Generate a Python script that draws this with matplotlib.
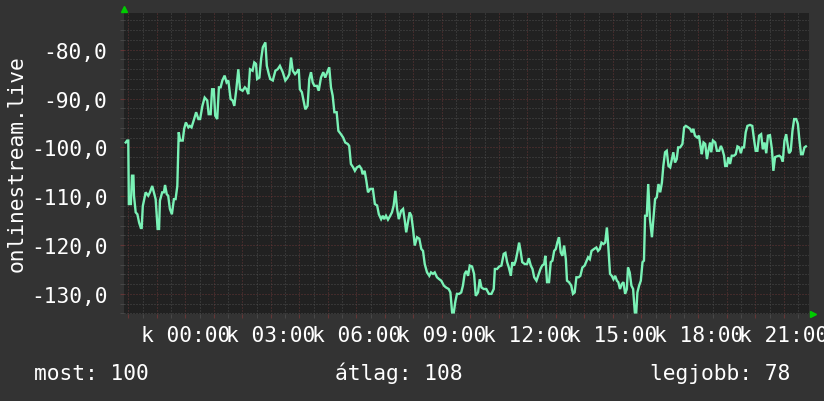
import matplotlib.pyplot as plt
from matplotlib.ticker import MultipleLocator, FuncFormatter

# hours relative to 00:00, and signal values (dB)
hours = [-2.09, -2.04, -2.00, -1.98, -1.91, -1.87, -1.82, -1.80, -1.74, -1.68, -1.62, -1.56, -1.53, -1.49,
         -1.39, -1.30, -1.24, -1.16, -1.07, -1.04, -0.97, -0.92, -0.89, -0.81, -0.75, -0.71, -0.65, -0.60,
         -0.54, -0.47, -0.40, -0.34, -0.28, -0.23, -0.18, -0.09, -0.04, 0.02, 0.11, 0.16, 0.22, 0.31, 0.38,
         0.46, 0.52, 0.60, 0.68, 0.77, 0.82, 0.89, 0.94, 1.00, 1.05, 1.12, 1.18, 1.24, 1.30, 1.38, 1.45,
         1.51, 1.59, 1.66, 1.72, 1.79, 1.86,
         1.92, 2.01, 2.09, 2.15, 2.21, 2.27, 2.36, 2.42, 2.48, 2.52, 2.60, 2.66, 2.72, 2.81, 2.86, 2.93,
         2.98, 3.07, 3.16, 3.24, 3.32, 3.42, 3.51, 3.59, 3.65, 3.71, 3.77, 3.85, 3.91, 3.98, 4.02, 4.09,
         4.15, 4.21, 4.29, 4.35, 4.41, 4.47, 4.53, 4.62, 4.68, 4.76, 4.84, 4.91, 4.98, 5.05, 5.11, 5.17,
         5.23, 5.31, 5.37, 5.46, 5.54, 5.61, 5.70, 5.75, 5.81, 5.89, 5.95,
         6.02, 6.11, 6.18, 6.22, 6.29, 6.35, 6.41, 6.49, 6.58, 6.65, 6.73, 6.79, 6.87, 6.93, 6.98, 7.04,
         7.11, 7.19, 7.25, 7.31, 7.37, 7.43, 7.49, 7.57, 7.64, 7.70, 7.75, 7.81, 7.87, 7.93, 7.99, 8.05,
         8.13, 8.21, 8.28, 8.34, 8.40, 8.48, 8.56, 8.62, 8.69, 8.75, 8.83, 8.91, 8.98, 9.07, 9.15, 9.24,
         9.30, 9.36, 9.42, 9.47, 9.53, 9.61, 9.68, 9.74, 9.80, 9.86, 9.92, 9.98,
         10.06, 10.13, 10.19, 10.27, 10.33, 10.39, 10.47, 10.56, 10.65, 10.74, 10.82, 10.86, 10.94, 11.01,
         11.09, 11.17, 11.23, 11.29, 11.35, 11.42, 11.47, 11.53, 11.59, 11.65, 11.71, 11.77, 11.82, 11.91,
         11.99, 12.05, 12.12, 12.18, 12.24, 12.32, 12.40, 12.46, 12.52, 12.59, 12.63, 12.69, 12.76, 12.82,
         12.88, 12.94, 13.00, 13.05, 13.11, 13.17, 13.23, 13.29, 13.35, 13.39, 13.46, 13.54, 13.60, 13.66,
         13.72, 13.80, 13.86, 13.93, 14.01,
         14.13, 14.19, 14.25, 14.34, 14.42, 14.48, 14.54, 14.60, 14.67, 14.73, 14.79, 14.83, 14.90, 14.96,
         15.02, 15.08, 15.14, 15.19, 15.25, 15.31, 15.37, 15.43, 15.49, 15.53, 15.59, 15.65, 15.71, 15.77,
         15.82, 15.86, 15.92, 15.98, 16.04, 16.09, 16.13, 16.19, 16.24, 16.30, 16.37, 16.42, 16.48, 16.54,
         16.60, 16.66, 16.72, 16.77, 16.83, 16.89, 16.95, 17.01, 17.07, 17.12, 17.18, 17.24, 17.29, 17.36,
         17.44, 17.50, 17.56, 17.64, 17.71, 17.77, 17.82, 17.88, 17.96, 18.02, 18.08,
         18.12, 18.18, 18.24, 18.30, 18.35, 18.41, 18.45, 18.51, 18.59, 18.65, 18.73, 18.79, 18.84, 18.90,
         18.94, 19.00, 19.05, 19.11, 19.17, 19.25, 19.31, 19.37, 19.43, 19.49, 19.54, 19.60, 19.66, 19.72,
         19.81, 19.89, 19.95, 20.01, 20.07, 20.13, 20.20, 20.26, 20.32, 20.38, 20.44, 20.51, 20.58, 20.63,
         20.69, 20.77, 20.84, 20.90, 20.96, 21.02, 21.08, 21.12, 21.18, 21.24, 21.30, 21.36, 21.43, 21.49,
         21.54, 21.60, 21.66, 21.72, 21.77]
values = [-99.0, -98.6, -98.6, -111.6, -111.6, -105.8, -105.8, -109.9, -113.3, -113.7, -115.4, -116.5, -116.5, -112.0,
          -109.2, -109.9, -109.2, -107.9, -109.9, -110.6, -116.7, -116.7, -110.9, -109.2, -109.2, -107.7, -109.6, -109.9,
          -112.6, -113.7, -110.6, -110.6, -107.9, -96.9, -98.6, -98.6, -96.2, -94.9, -95.9, -95.6, -95.9, -94.2, -92.8,
          -94.2, -94.2, -91.5, -89.8, -90.4, -93.2, -93.2, -88.1, -88.1, -93.5, -94.2, -87.7, -87.7, -86.3, -85.3, -86.7,
          -86.3, -90.1, -90.4, -91.5, -88.1, -84.0,
          -88.1, -88.4, -87.7, -88.1, -89.1, -84.0, -84.3, -82.6, -82.9, -86.0, -85.7, -81.9, -79.5, -78.5, -83.3, -85.0,
          -86.0, -86.3, -84.3, -84.0, -83.3, -84.6, -86.3, -85.7, -85.0, -81.6, -84.3, -85.0, -84.6, -84.0, -88.1, -88.7,
          -90.4, -92.2, -91.5, -86.0, -84.6, -86.7, -87.4, -87.4, -88.4, -85.7, -84.6, -85.7, -84.6, -83.6, -87.7, -89.4,
          -92.8, -92.8, -96.6, -97.3, -98.0, -99.0, -99.3, -99.7, -103.4, -104.1, -104.8,
          -104.1, -103.8, -104.4, -105.5, -104.8, -106.8, -109.2, -108.5, -108.5, -111.6, -111.9, -113.7, -114.7, -114.0, -114.7, -114.0,
          -114.8, -114.0, -113.3, -111.9, -108.9, -112.6, -114.7, -113.0, -112.6, -115.0, -117.4, -115.4, -113.3, -114.0, -116.7, -120.1,
          -118.4, -118.7, -120.8, -121.2, -123.9, -125.6, -126.3, -125.6, -125.9, -125.6, -126.6, -127.0, -127.3, -128.3, -128.7, -129.0,
          -129.7, -133.8, -133.8, -131.7, -130.0, -130.0, -129.7, -128.3, -125.9, -125.3, -126.3, -124.2,
          -124.4, -125.9, -130.4, -129.7, -127.0, -128.7, -129.0, -129.0, -130.0, -130.0, -129.0, -124.9, -124.9, -124.4,
          -124.2, -121.8, -121.6, -123.5, -124.6, -126.3, -123.5, -124.2, -123.2, -121.5, -119.5, -121.5, -123.5, -123.9,
          -123.9, -122.7, -124.2, -124.9, -126.6, -127.3, -125.9, -124.9, -124.2, -123.9, -122.2, -127.6, -127.6, -123.5,
          -123.2, -121.2, -120.8, -119.5, -118.4, -121.5, -122.2, -120.1, -122.9, -127.3, -127.6, -128.3, -130.0, -129.7,
          -126.6, -126.6, -126.3, -124.6, -124.2,
          -122.5, -122.9, -121.2, -120.8, -120.5, -121.2, -120.8, -119.5, -119.8, -119.5, -116.4, -119.5, -125.9, -126.3,
          -127.0, -126.3, -127.3, -127.6, -129.0, -128.0, -127.6, -130.0, -129.0, -124.6, -125.6, -128.3, -129.0, -133.8,
          -133.8, -129.7, -128.3, -127.3, -123.5, -123.2, -114.0, -114.0, -107.5, -114.7, -118.4, -114.7, -110.6, -110.2,
          -107.5, -109.2, -107.2, -103.8, -101.0, -100.7, -103.8, -104.1, -102.4, -101.0, -103.1, -102.4, -100.0, -100.0,
          -99.3, -95.9, -95.6, -95.9, -96.2, -96.9, -96.2, -97.6, -98.0, -97.6, -100.0,
          -101.4, -99.0, -99.3, -102.4, -100.7, -99.0, -101.0, -98.6, -99.0, -100.7, -100.7, -99.7, -100.4, -101.7,
          -103.8, -103.8, -102.0, -103.4, -101.7, -101.7, -101.4, -99.8, -100.0, -101.2, -100.0, -100.0, -96.9, -95.6,
          -95.4, -95.6, -98.3, -100.7, -100.7, -97.6, -97.3, -100.4, -99.0, -101.2, -97.6, -97.5, -100.4, -104.8,
          -102.0, -101.8, -101.7, -102.0, -102.9, -98.6, -97.3, -99.0, -101.2, -100.7, -96.6, -94.2, -94.2, -95.2,
          -98.3, -101.4, -101.4, -100.0, -99.8]

day_abbr = "k"
y_label = "onlinestream.live"
stats = [("most: 100", 34), ("átlag: 108", 335), ("legjobb: 78", 650)]

BG = "#333333"
CANVAS = "#212121"
LINE = "#7af2b6"
MINOR = "#4c4c4c"
MAJOR = "#643636"
FONT = "DejaVu Sans Mono"
FS = 15.3

plt.rcParams["font.family"] = FONT

fig = plt.figure(figsize=(8.24, 4.02), dpi=100, facecolor=BG)
ax = fig.add_axes([124 / 824, 1 - 315 / 402, 685 / 824, 301 / 402])
ax.set_facecolor(CANVAS)

ax.set_xlim(-2.15, 21.88)
ax.set_ylim(-134.12, -72.48)

ax.xaxis.set_major_locator(MultipleLocator(1))
ax.xaxis.set_minor_locator(MultipleLocator(0.5))
ax.yaxis.set_major_locator(MultipleLocator(10))
ax.yaxis.set_minor_locator(MultipleLocator(2))


def xfmt(v, pos):
    h = int(round(v))
    if h % 3 != 0:
        return ""
    return f"{day_abbr} {h % 24:02d}:00"


ax.xaxis.set_major_formatter(FuncFormatter(xfmt))
ax.yaxis.set_major_formatter(FuncFormatter(lambda v, p: f"{v:.1f}".replace(".", ",")))

ax.grid(which="minor", color=MINOR, linestyle=(0, (1, 2)), linewidth=0.72)
ax.grid(which="major", color=MAJOR, linestyle=(0, (1, 2)), linewidth=0.72)
ax.set_axisbelow(True)

for s in ax.spines.values():
    s.set_visible(False)

ax.tick_params(axis="both", which="both", labelcolor="white", labelsize=FS)
ax.tick_params(axis="x", which="major", length=3, color=MAJOR, pad=5)
ax.tick_params(axis="x", which="minor", length=3, color=MINOR)
ax.tick_params(axis="y", which="major", length=3, color=MAJOR, pad=9)
ax.tick_params(axis="y", which="minor", length=3, color=MINOR)

ax.plot(hours, values, color=LINE, linewidth=1.7, solid_joinstyle="miter")

# rrdtool style arrow heads
ax.plot([0], [1.012], transform=ax.transAxes, marker="^", color="#00cc00",
        markersize=5, clip_on=False, linestyle="none")
ax.plot([1.006], [0], transform=ax.transAxes, marker=">", color="#00cc00",
        markersize=5, clip_on=False, linestyle="none")

fig.text(16.5 / 824, 1 - 164 / 402, y_label, rotation=90, ha="center", va="center",
         color="white", fontsize=FS)

for txt, x in stats:
    fig.text(x / 824, 1 - 380 / 402, txt, ha="left", va="baseline", color="white", fontsize=FS)

fig.savefig("out.png", dpi=100, facecolor=BG)
